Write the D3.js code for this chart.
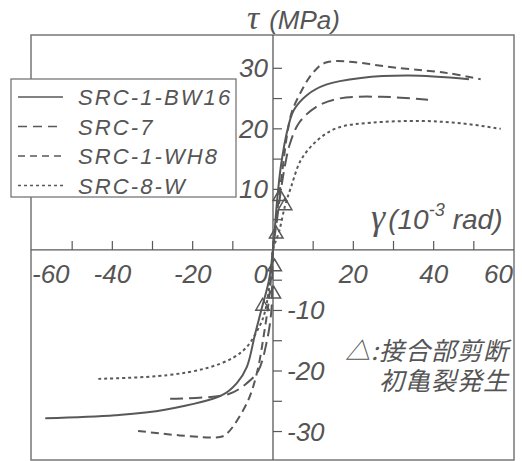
<!DOCTYPE html>
<html>
<head>
<meta charset="utf-8">
<script src="https://cdn.jsdelivr.net/npm/d3@7"></script>
<style>
  body { margin: 0; background: #fff; }
  svg text { font-family: "Liberation Sans", Arial, sans-serif; font-style: italic; fill: #555; }
</style>
</head>
<body>
<svg id="chart" width="522" height="461"></svg>
<script>
// series names, in legend order
const seriesNames = ['SRC-1-BW16', 'SRC-7', 'SRC-1-WH8', 'SRC-8-W'];

// [gamma (10^-3 rad), tau (MPa)], negative end -> positive end
const bw16 = [[-56.7, -27.8], [-39.3, -27.3], [-26.9, -26.4], [-12.7, -24], [-9, -22], [-6.5, -19.3],
  [-4.5, -14], [-2.7, -9.4], [-1, -5], [0, 0], [1, 8], [2, 14], [3.7, 20.1], [5.2, 23.1],
  [8.5, 25.6], [13.2, 27.3], [21.9, 28.4], [33.8, 28.8], [48.8, 28.2]];
const src7 = [[-25.6, -24.6], [-11, -23.8], [-6.5, -22], [-3.7, -20], [-1.5, -15], [-0.4, -10],
  [-0.2, -5], [0, 0], [1, 5], [2, 10], [3, 14], [4.2, 17.5], [6.5, 21], [10.7, 23.6],
  [16.4, 25], [27, 25.3], [38.6, 24.8]];
const wh8 = [[-33.6, -29.9], [-13.2, -30.9], [-11.4, -30.3], [-6.5, -25.3], [-4, -20.3],
  [-2.2, -13.7], [-0.8, -7], [0, 0], [1, 6], [2.5, 14], [3.5, 19], [4.7, 22.8], [7.2, 26.4],
  [10, 29.3], [13.4, 31], [31.8, 30], [43.5, 29.2], [51.7, 28.2]];
const w8 = [[-43.5, -21.3], [-26.4, -20.7], [-16.4, -19.5], [-9.9, -17.8], [-6.5, -16],
  [-3.2, -12.4], [-2, -10.2], [-0.5, -4], [0, 0], [1.5, 3], [3, 7.3], [4.5, 10.4], [7, 14.9],
  [11.2, 18.2], [16.2, 20.2], [24.4, 21], [36.8, 21.3], [47, 20.9], [56.7, 20]];
const seriesValues = [bw16, src7, wh8, w8];
const dashes = [null, '13,6', '8,5', '3,3'];

// triangles: first shear crack in the joint
const crackPoints = [[1.7, 8.8], [3, 7.3], [0.8, 2.6], [0.4, -2.8], [0.2, -7.3], [-2.6, -9.3]];

const xTicks = [-60, -50, -40, -30, -20, -10, 0, 10, 20, 30, 40, 50, 60];
const xLabels = [-60, -40, -20, 0, 20, 40, 60];
const yTicks = [-30, -25, -20, -15, -10, -5, 5, 10, 15, 20, 25, 30];
const yLabels = [-30, -20, -10, 10, 20, 30];

const grey = '#585858';
const svg = d3.select('#chart');
const frame = { left: 31, right: 514, top: 35, bottom: 460 };

const x = d3.scaleLinear().domain([-60, 60]).range([32, 514]);
const y = d3.scaleLinear().domain([-34.7, 35.5]).range([frame.bottom, frame.top]);
const x0 = x(0), y0 = y(0);

// frame
svg.append('rect')
  .attr('x', frame.left).attr('y', frame.top)
  .attr('width', frame.right - frame.left).attr('height', frame.bottom - frame.top)
  .attr('fill', 'none').attr('stroke', '#777').attr('stroke-width', 1.5);

// axes through the origin
svg.append('line').attr('x1', frame.left).attr('x2', frame.right)
  .attr('y1', y0).attr('y2', y0).attr('stroke', grey).attr('stroke-width', 1.3);
svg.append('line').attr('x1', x0).attr('x2', x0)
  .attr('y1', frame.top).attr('y2', frame.bottom).attr('stroke', grey).attr('stroke-width', 1.3);

svg.selectAll('line.xt').data(xTicks.filter(d => Math.abs(d) < 60)).join('line')
  .attr('class', 'xt')
  .attr('x1', d => x(d)).attr('x2', d => x(d))
  .attr('y1', y0).attr('y2', y0 - 9)
  .attr('stroke', grey).attr('stroke-width', 1.2);

svg.selectAll('line.yt').data(yTicks).join('line')
  .attr('class', 'yt')
  .attr('x1', x0).attr('x2', x0 + 9)
  .attr('y1', d => y(d)).attr('y2', d => y(d))
  .attr('stroke', grey).attr('stroke-width', 1.2);

svg.selectAll('text.xl').data(xLabels).join('text')
  .attr('class', 'xl')
  .attr('x', d => d === -60 ? frame.left + 1 : d === 60 ? frame.right - 1 : d === 0 ? x0 - 5 : x(d))
  .attr('y', y0 + 33)
  .attr('text-anchor', d => d === -60 ? 'start' : (d === 60 || d === 0) ? 'end' : 'middle')
  .style('font-size', '26px')
  .text(d => d);

svg.selectAll('text.yl').data(yLabels).join('text')
  .attr('class', 'yl')
  .attr('x', d => d > 0 ? x0 - 5 : x0 + 14)
  .attr('y', d => y(d) + 9)
  .attr('text-anchor', d => d > 0 ? 'end' : 'start')
  .style('font-size', '26px')
  .text(d => d);

// axis titles
const tauTitle = svg.append('text').attr('x', 247).attr('y', 29).style('font-size', '26px');
tauTitle.append('tspan').style('font-family', '"Liberation Serif", serif').style('font-size', '34px').text('τ');
tauTitle.append('tspan').attr('dx', 10).text('(MPa)');

const gamTitle = svg.append('text').attr('x', 371).attr('y', 229).style('font-size', '28px');
gamTitle.append('tspan').style('font-family', '"Liberation Serif", serif').style('font-size', '36px').text('γ');
gamTitle.append('tspan').attr('dx', 3).text('(10');
gamTitle.append('tspan').attr('dy', -13).style('font-size', '18px').text('-3');
gamTitle.append('tspan').attr('dy', 13).attr('dx', 8).text('rad)');

// curves
const line = d3.line().x(d => x(d[0])).y(d => y(d[1])).curve(d3.curveCatmullRom.alpha(0.5));
svg.selectAll('path.curve').data(seriesValues).join('path')
  .attr('class', 'curve')
  .attr('d', line)
  .attr('fill', 'none')
  .attr('stroke', grey)
  .attr('stroke-width', 2)
  .attr('stroke-dasharray', (d, i) => dashes[i]);

// crack markers
const tri = d3.symbol().type(d3.symbolTriangle).size(80);
svg.selectAll('path.tri').data(crackPoints).join('path')
  .attr('class', 'tri')
  .attr('d', tri)
  .attr('transform', d => `translate(${x(d[0])},${y(d[1])})`)
  .attr('fill', 'none').attr('stroke', grey).attr('stroke-width', 1.5);

// legend
const lg = svg.append('g');
lg.append('rect').attr('x', 11).attr('y', 79).attr('width', 225).attr('height', 118)
  .attr('fill', '#fff').attr('stroke', '#777').attr('stroke-width', 1.3);
const rows = lg.selectAll('g.row').data(seriesNames).join('g')
  .attr('class', 'row')
  .attr('transform', (d, i) => `translate(0,${97 + i * 29.5})`);
rows.append('line').attr('x1', 18).attr('x2', 63).attr('y1', 0).attr('y2', 0)
  .attr('stroke', grey).attr('stroke-width', 1.7)
  .attr('stroke-dasharray', (d, i) => i === 1 ? '9,6' : i === 2 ? '7,5' : dashes[i]);
rows.append('text').attr('x', 78).attr('y', 8)
  .style('font-size', '22px').style('letter-spacing', '2.1px')
  .text(d => d);

// annotation
const note = svg.append('g');
note.append('text').attr('x', 509).attr('y', 360).attr('text-anchor', 'end')
  .style('font-family', '"Noto Sans CJK JP", sans-serif').style('font-size', '25px')
  .style('letter-spacing', '1px')
  .text('△:接合部剪断');
note.append('text').attr('x', 509).attr('y', 390).attr('text-anchor', 'end')
  .style('font-family', '"Noto Sans CJK JP", sans-serif').style('font-size', '25px')
  .style('letter-spacing', '1px')
  .text('初亀裂発生');
</script>
</body>
</html>
